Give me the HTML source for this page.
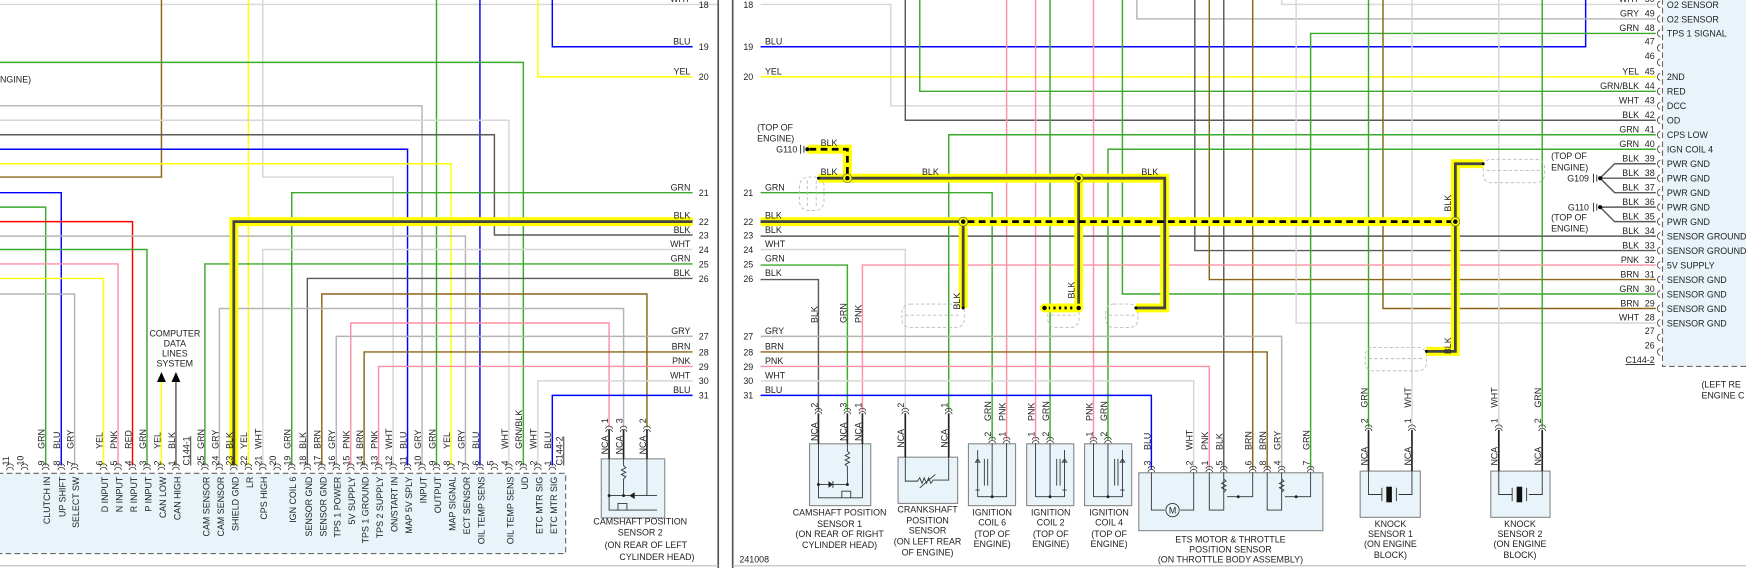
<!DOCTYPE html>
<html><head><meta charset="utf-8"><style>
html,body{margin:0;padding:0;background:#fff;}
svg{display:block;}
text{font-family:"Liberation Sans",sans-serif;font-size:8px;fill:#222;}
.w0{fill:none;stroke-width:1.3;}
.g{stroke:#3aaa2a}.b{stroke:#0000ff}.y{stroke:#ffff00}.p{stroke:#ff8fa3}.w{stroke:#d6d6d6}.gy{stroke:#b4b4b4}.k{stroke:#5a5a5a}.br{stroke:#8b6418}.r{stroke:#ff0000}
.nc{fill:none;stroke:#222;stroke-width:1.5}
.box{fill:#e8f4fa;stroke:#888;stroke-width:1}
.sh{fill:none;stroke:#bbb;stroke-width:0.8;stroke-dasharray:3 2}
.in{fill:none;stroke:#333;stroke-width:0.8}
.hy{fill:none;stroke:#ffff00;stroke-width:8;stroke-linejoin:miter}
.hk{fill:none;stroke:#444;stroke-width:2.5}
.hd{fill:none;stroke:#000;stroke-width:2.5;stroke-dasharray:6 4}
.e{text-anchor:end}.m{text-anchor:middle}
</style></head><body>
<svg width="1746" height="568" viewBox="0 0 1568 510" preserveAspectRatio="none" xmlns="http://www.w3.org/2000/svg">
<defs>
<path id="pa" d="M-3 0 a3 2.5 0 0 1 6 0 M-3 3 a3 2.5 0 0 1 6 0" fill="none" stroke="#333" stroke-width="0.7"/>
<path id="pr" d="M0 -3 a2.5 3 0 0 0 0 6" fill="none" stroke="#333" stroke-width="0.7"/>
</defs>
<rect width="1568" height="510" fill="#fff"/>

<!-- left connector box -->
<rect x="-2" y="425" width="510" height="72" fill="#e8f4fa" stroke="#666" stroke-width="1" stroke-dasharray="5 3"/>
<!-- right connector box -->
<rect x="1493" y="-2" width="80" height="331" fill="#e8f4fa" stroke="#666" stroke-width="1" stroke-dasharray="5 3"/>

<!-- LEFT PANEL WIRES -->
<g class="w0">
<path class="w" d="M0 4H645"/>
<path class="br" d="M145 0V159H0"/>
<path class="y" d="M223 0V418"/>
<path class="w" d="M236 0V159H353V418"/>
<path class="g" d="M392 0V418"/>
<path class="b" d="M431 0V418"/>
<path class="y" d="M483 0V69H622"/>
<path class="b" d="M496 0V42H622"/>
<path class="g" d="M0 56H470V418"/>
<path class="gy" d="M0 95H379V418"/>
<path class="w" d="M0 108H457V418"/>
<path class="k" d="M0 121H444V211H622"/>
<path class="b" d="M0 134H366V418"/>
<path class="y" d="M0 147H405V418"/>
<path class="g" d="M262 418V173H622"/>
<path class="b" d="M0 173H55V418"/>
<path class="g" d="M0 186H41V418"/>
<path class="r" d="M0 199H119V418"/>
<path class="gy" d="M0 212H418V418"/>
<path class="g" d="M0 224H132V418"/>
<path class="w" d="M236 418V224H622"/>
<path class="p" d="M0 237H106V418"/>
<path class="g" d="M184 418V237H622"/>
<path class="y" d="M0 250H93V418"/>
<path class="k" d="M276 418V250H622"/>
<path class="gy" d="M0 264H67V418"/>
<path class="br" d="M289 418V264H581V384"/>
<path class="gy" d="M197 418V277H560V384"/>
<path class="p" d="M315 418V290H547V384"/>
<path class="gy" d="M302 418V302H622"/>
<path class="br" d="M327 418V316H622"/>
<path class="p" d="M340 418V329H622"/>
<path class="w" d="M483 418V342H622"/>
<path class="b" d="M496 418V355H622"/>
<path class="y" d="M145 342V418"/>
<path class="k" d="M158 342V418"/>
</g>
<!-- shielded left -->
<path class="hy" d="M210 418V199H622"/>
<path class="hk" d="M210 418V199H622"/>
<polygon points="145,334 141,343 149,343" fill="#000"/>
<polygon points="158,334 154,343 162,343" fill="#000"/>
<text x="157" y="302" class="m">COMPUTER</text>
<text x="157" y="311" class="m">DATA</text>
<text x="157" y="320" class="m">LINES</text>
<text x="157" y="329" class="m">SYSTEM</text>
<text x="0" y="74">NGINE)</text>

<!-- left connector pin labels -->
<g>
<use href="#pa" x="9" y="419"/><use href="#pa" x="22" y="419"/><use href="#pa" x="41" y="419"/><use href="#pa" x="55" y="419"/><use href="#pa" x="67" y="419"/><use href="#pa" x="93" y="419"/><use href="#pa" x="106" y="419"/><use href="#pa" x="119" y="419"/><use href="#pa" x="132" y="419"/><use href="#pa" x="145" y="419"/><use href="#pa" x="158" y="419"/><use href="#pa" x="184" y="419"/><use href="#pa" x="197" y="419"/><use href="#pa" x="210" y="419"/><use href="#pa" x="223" y="419"/><use href="#pa" x="236" y="419"/><use href="#pa" x="249" y="419"/><use href="#pa" x="262" y="419"/><use href="#pa" x="276" y="419"/><use href="#pa" x="289" y="419"/><use href="#pa" x="302" y="419"/><use href="#pa" x="315" y="419"/><use href="#pa" x="327" y="419"/><use href="#pa" x="340" y="419"/><use href="#pa" x="353" y="419"/><use href="#pa" x="366" y="419"/><use href="#pa" x="379" y="419"/><use href="#pa" x="392" y="419"/><use href="#pa" x="405" y="419"/><use href="#pa" x="418" y="419"/><use href="#pa" x="431" y="419"/><use href="#pa" x="444" y="419"/><use href="#pa" x="457" y="419"/><use href="#pa" x="470" y="419"/><use href="#pa" x="483" y="419"/><use href="#pa" x="496" y="419"/>
</g>
<g>
<text transform="translate(8,418) rotate(-90)">11</text>
<text transform="translate(21,418) rotate(-90)">10</text>
<text transform="translate(40,418) rotate(-90)">9</text><text transform="translate(40,403) rotate(-90)">GRN</text><text class="e" transform="translate(45,428) rotate(-90)">CLUTCH IN</text>
<text transform="translate(54,418) rotate(-90)">8</text><text transform="translate(54,403) rotate(-90)">BLU</text><text class="e" transform="translate(59,428) rotate(-90)">UP SHIFT</text>
<text transform="translate(66,418) rotate(-90)">7</text><text transform="translate(66,403) rotate(-90)">GRY</text><text class="e" transform="translate(71,428) rotate(-90)">SELECT SW</text>
<text transform="translate(92,418) rotate(-90)">6</text><text transform="translate(92,403) rotate(-90)">YEL</text><text class="e" transform="translate(97,428) rotate(-90)">D INPUT</text>
<text transform="translate(105,418) rotate(-90)">5</text><text transform="translate(105,403) rotate(-90)">PNK</text><text class="e" transform="translate(110,428) rotate(-90)">N INPUT</text>
<text transform="translate(118,418) rotate(-90)">4</text><text transform="translate(118,403) rotate(-90)">RED</text><text class="e" transform="translate(123,428) rotate(-90)">R INPUT</text>
<text transform="translate(131,418) rotate(-90)">3</text><text transform="translate(131,403) rotate(-90)">GRN</text><text class="e" transform="translate(136,428) rotate(-90)">P INPUT</text>
<text transform="translate(144,418) rotate(-90)">2</text><text transform="translate(144,403) rotate(-90)">YEL</text><text class="e" transform="translate(149,428) rotate(-90)">CAN LOW</text>
<text transform="translate(157,418) rotate(-90)">1</text><text transform="translate(157,403) rotate(-90)">BLK</text><text class="e" transform="translate(162,428) rotate(-90)">CAN HIGH</text>
<text transform="translate(170,418) rotate(-90)" text-decoration="underline">C144-1</text>
<text transform="translate(183,418) rotate(-90)">25</text><text transform="translate(183,403) rotate(-90)">GRN</text><text class="e" transform="translate(188,428) rotate(-90)">CAM SENSOR</text>
<text transform="translate(196,418) rotate(-90)">24</text><text transform="translate(196,403) rotate(-90)">GRY</text><text class="e" transform="translate(201,428) rotate(-90)">CAM SENSOR</text>
<text transform="translate(209,418) rotate(-90)">23</text><text transform="translate(209,403) rotate(-90)">BLK</text><text class="e" transform="translate(214,428) rotate(-90)">SHIELD GND</text>
<text transform="translate(222,418) rotate(-90)">22</text><text transform="translate(222,403) rotate(-90)">YEL</text><text class="e" transform="translate(227,428) rotate(-90)">LR</text>
<text transform="translate(235,418) rotate(-90)">21</text><text transform="translate(235,403) rotate(-90)">WHT</text><text class="e" transform="translate(240,428) rotate(-90)">CPS HIGH</text>
<text transform="translate(248,418) rotate(-90)">20</text>
<text transform="translate(261,418) rotate(-90)">19</text><text transform="translate(261,403) rotate(-90)">GRN</text><text class="e" transform="translate(266,428) rotate(-90)">IGN COIL 6</text>
<text transform="translate(275,418) rotate(-90)">18</text><text transform="translate(275,403) rotate(-90)">BLK</text><text class="e" transform="translate(280,428) rotate(-90)">SENSOR GND</text>
<text transform="translate(288,418) rotate(-90)">17</text><text transform="translate(288,403) rotate(-90)">BRN</text><text class="e" transform="translate(293,428) rotate(-90)">SENSOR GND</text>
<text transform="translate(301,418) rotate(-90)">16</text><text transform="translate(301,403) rotate(-90)">GRY</text><text class="e" transform="translate(306,428) rotate(-90)">TPS 1 POWER</text>
<text transform="translate(314,418) rotate(-90)">15</text><text transform="translate(314,403) rotate(-90)">PNK</text><text class="e" transform="translate(319,428) rotate(-90)">5V SUPPLY</text>
<text transform="translate(326,418) rotate(-90)">14</text><text transform="translate(326,403) rotate(-90)">BRN</text><text class="e" transform="translate(331,428) rotate(-90)">TPS 1 GROUND</text>
<text transform="translate(339,418) rotate(-90)">13</text><text transform="translate(339,403) rotate(-90)">PNK</text><text class="e" transform="translate(344,428) rotate(-90)">TPS 2 SUPPLY</text>
<text transform="translate(352,418) rotate(-90)">12</text><text transform="translate(352,403) rotate(-90)">WHT</text><text class="e" transform="translate(357,428) rotate(-90)">ON/START IN</text>
<text transform="translate(365,418) rotate(-90)">11</text><text transform="translate(365,403) rotate(-90)">BLU</text><text class="e" transform="translate(370,428) rotate(-90)">MAP 5V SPLY</text>
<text transform="translate(378,418) rotate(-90)">10</text><text transform="translate(378,403) rotate(-90)">GRY</text><text class="e" transform="translate(383,428) rotate(-90)">INPUT</text>
<text transform="translate(391,418) rotate(-90)">9</text><text transform="translate(391,403) rotate(-90)">GRN</text><text class="e" transform="translate(396,428) rotate(-90)">OUTPUT</text>
<text transform="translate(404,418) rotate(-90)">8</text><text transform="translate(404,403) rotate(-90)">YEL</text><text class="e" transform="translate(409,428) rotate(-90)">MAP SIGNAL</text>
<text transform="translate(417,418) rotate(-90)">7</text><text transform="translate(417,403) rotate(-90)">GRY</text><text class="e" transform="translate(422,428) rotate(-90)">ECT SENSOR</text>
<text transform="translate(430,418) rotate(-90)">6</text><text transform="translate(430,403) rotate(-90)">BLU</text><text class="e" transform="translate(435,428) rotate(-90)">OIL TEMP SENS</text>
<text transform="translate(443,418) rotate(-90)">5</text>
<text transform="translate(456,418) rotate(-90)">4</text><text transform="translate(456,403) rotate(-90)">WHT</text><text class="e" transform="translate(461,428) rotate(-90)">OIL TEMP SENS</text>
<text transform="translate(469,418) rotate(-90)">3</text><text transform="translate(469,403) rotate(-90)">GRN/BLK</text><text class="e" transform="translate(474,428) rotate(-90)">UD</text>
<text transform="translate(482,418) rotate(-90)">2</text><text transform="translate(482,403) rotate(-90)">WHT</text><text class="e" transform="translate(487,428) rotate(-90)">ETC MTR SIG</text>
<text transform="translate(495,418) rotate(-90)">1</text><text transform="translate(495,403) rotate(-90)">BLU</text><text class="e" transform="translate(500,428) rotate(-90)">ETC MTR SIG</text>
<text transform="translate(505,418) rotate(-90)" text-decoration="underline">C144-2</text>
</g>

<!-- left panel right-edge labels -->
<g>
<text class="e" x="620" y="2">WHT</text><text class="m" x="632" y="7">18</text>
<text class="e" x="620" y="40">BLU</text><text class="m" x="632" y="45">19</text>
<text class="e" x="620" y="67">YEL</text><text class="m" x="632" y="72">20</text>
<text class="e" x="620" y="171">GRN</text><text class="m" x="632" y="176">21</text>
<text class="e" x="620" y="196">BLK</text><text class="m" x="632" y="202">22</text>
<text class="e" x="620" y="209">BLK</text><text class="m" x="632" y="214">23</text>
<text class="e" x="620" y="222">WHT</text><text class="m" x="632" y="227">24</text>
<text class="e" x="620" y="235">GRN</text><text class="m" x="632" y="240">25</text>
<text class="e" x="620" y="248">BLK</text><text class="m" x="632" y="253">26</text>
<text class="e" x="620" y="300">GRY</text><text class="m" x="632" y="305">27</text>
<text class="e" x="620" y="314">BRN</text><text class="m" x="632" y="319">28</text>
<text class="e" x="620" y="327">PNK</text><text class="m" x="632" y="332">29</text>
<text class="e" x="620" y="340">WHT</text><text class="m" x="632" y="345">30</text>
<text class="e" x="620" y="353">BLU</text><text class="m" x="632" y="358">31</text>
</g>

<!-- camshaft sensor 2 -->
<rect class="box" x="540" y="412" width="57" height="53"/>
<path class="nc" d="M547 386V412M560 386V412M581 386V412"/>
<use href="#pa" x="547" y="385"/><use href="#pa" x="560" y="385"/><use href="#pa" x="581" y="385"/>
<text transform="translate(546,380) rotate(-90)">1</text><text transform="translate(559,380) rotate(-90)">3</text><text transform="translate(580,380) rotate(-90)">2</text>
<text transform="translate(546,408) rotate(-90)">NCA</text><text transform="translate(559,408) rotate(-90)">NCA</text><text transform="translate(580,408) rotate(-90)">NCA</text>
<path class="in" d="M547 412V458H590M560 412V418l2 2-4 2 4 2-4 2 4 2-2 2V445M547 445H590M581 412V445M555 458v-6h8v6"/>
<path d="M565 445l5-3v6z" fill="#222"/>
<circle cx="547" cy="445" r="1.3" fill="#222"/><circle cx="560" cy="445" r="1.3" fill="#222"/>
<text class="m" x="575" y="471">CAMSHAFT POSITION</text>
<text class="m" x="575" y="481">SENSOR 2</text>
<text class="m" x="580" y="492">(ON REAR OF LEFT</text>
<text class="m" x="590" y="503">CYLINDER HEAD)</text>

<!-- panel borders -->
<path d="M645 0V510M658 0V510" stroke="#555" stroke-width="1.5"/>
<path d="M0 508H645M658 508H1568" stroke="#bbb" stroke-width="1"/>

<!-- RIGHT PANEL WIRES -->
<g class="w0">
<path class="w" d="M683 4H800V95H1487"/>
<path class="w" d="M1151 0V4H1487"/>
<path class="b" d="M683 42H1424V0"/>
<path class="y" d="M683 69H1487"/>
<path class="k" d="M813 0V108H1487"/>
<path class="g" d="M826 0V82H1487"/>
<path class="p" d="M904 0V395"/>
<path class="p" d="M930 0V395"/>
<path class="g" d="M943 0V395"/>
<path class="p" d="M982 0V395"/>
<path class="g" d="M1008 0V264H1487"/>
<path class="gy" d="M1021 0V17H1487"/>
<path class="k" d="M1073 0V225H1487"/>
<path class="br" d="M1086 0V251H1487"/>
<path class="k" d="M1099 0V421"/>
<path class="br" d="M1125 0V421"/>
<path class="w" d="M1164 0V290H1487"/>
<path class="g" d="M1177 421V30H1487"/>
<path class="g" d="M1229 0V384"/>
<path class="br" d="M1242 0V277H1487"/>
<path class="w" d="M1268 0V384"/>
<path class="w" d="M1346 0V384"/>
<path class="g" d="M1385 0V384"/>
<path class="g" d="M683 173H891V395"/>
<path class="k" d="M683 212H1487"/>
<path class="w" d="M683 224H813V369"/>
<path class="g" d="M683 238H761V369"/>
<path class="p" d="M774.5 369V238H1487"/>
<path class="k" d="M683 251H735V369"/>
<path class="g" d="M852 369V121H1487"/>
<path class="g" d="M995 395V134H1487"/>
<path class="b" d="M683 355H1034V421"/>
<path class="w" d="M683 342H1072V421"/>
<path class="p" d="M683 329H1086V421"/>
<path class="br" d="M683 316H1138V421"/>
<path class="gy" d="M683 302H1151V421"/>
<path class="k" d="M1437 160L1450 147H1487M1437 160H1487M1437 160L1450 173H1487M1437 186H1487M1437 186L1450 199H1487"/>
</g>

<!-- shields -->
<g>
<rect class="sh" x="718" y="159" width="22" height="30" rx="8"/><path class="sh" d="M725 162V186M733 162V186"/>
<rect class="sh" x="810" y="273" width="56" height="21" rx="7"/><path class="sh" d="M813 283H863"/>
<rect class="sh" x="941" y="273" width="28" height="21" rx="7"/><path class="sh" d="M944 283H966"/>
<rect class="sh" x="993" y="273" width="29" height="21" rx="7"/><path class="sh" d="M996 283H1019"/>
<rect class="sh" x="1332" y="143" width="55" height="21" rx="7"/><path class="sh" d="M1335 153H1384"/>
<rect class="sh" x="1226" y="312" width="55" height="21" rx="7"/><path class="sh" d="M1229 322H1278"/>
</g>

<!-- highlighted grounds -->
<path class="hy" d="M683 199H865V276.5"/>
<path class="hy" d="M735 160H1046V276.5H1020"/>
<path class="hy" d="M968.7 160V276.5"/>
<path class="hy" d="M1332 147H1307V315.5H1281"/>
<path class="hy" d="M865 199H1307"/>
<path class="hy" d="M725 134H761V160"/>
<path class="hy" d="M938 276.5H968.7"/>
<path class="hk" d="M683 199H865V276.5"/>
<path class="hk" d="M735 160H1046V276.5H1020"/>
<path class="hk" d="M968.7 160V276.5"/>
<path class="hk" d="M1332 147H1307V315.5H1281"/>
<path class="hd" d="M869 199H1307"/>
<path class="hd" d="M727 134H761V160"/>
<path d="M941 276.5H966" stroke="#000" stroke-width="2.5" stroke-dasharray="2 3" fill="none"/>
<g fill="#000">
<circle cx="761" cy="160" r="4" fill="#ffff00" stroke="#444" stroke-width="0.5"/><circle cx="761" cy="160" r="2"/>
<circle cx="968.7" cy="160" r="4" fill="#ffff00" stroke="#444" stroke-width="0.5"/><circle cx="968.7" cy="160" r="2"/>
<circle cx="865" cy="199" r="4" fill="#ffff00" stroke="#444" stroke-width="0.5"/><circle cx="865" cy="199" r="2"/>
<circle cx="1307" cy="199" r="4" fill="#ffff00" stroke="#444" stroke-width="0.5"/><circle cx="1307" cy="199" r="2"/>
<circle cx="938" cy="276.5" r="4" fill="#ffff00"/><circle cx="938" cy="276.5" r="2"/>
<circle cx="968.7" cy="276.5" r="4" fill="#ffff00"/><circle cx="968.7" cy="276.5" r="2"/>
<circle cx="735" cy="160" r="1.3"/><circle cx="1020" cy="276.5" r="1.3"/><circle cx="865" cy="276.5" r="1.3"/><circle cx="1332" cy="147" r="1.3"/><circle cx="1281" cy="315.5" r="1.3"/>
</g>
<!-- G110 top-left -->
<text x="680" y="117">(TOP OF</text><text x="680" y="127">ENGINE)</text>
<text class="e" x="716" y="137">G110</text>
<path d="M719 130V138M722 131V137" stroke="#222" stroke-width="0.8"/><circle cx="725" cy="134" r="1.8" fill="#000"/>
<text x="737" y="131">BLK</text>
<text x="737" y="157">BLK</text><text x="828" y="157">BLK</text><text x="1025" y="157">BLK</text>
<text transform="translate(862,278) rotate(-90)">BLK</text>
<text transform="translate(965,268) rotate(-90)">BLK</text>
<text transform="translate(1303,190) rotate(-90)">BLK</text>
<text transform="translate(1303,318) rotate(-90)">BLK</text>

<!-- right panel left labels -->
<g>
<text class="m" x="672" y="7">18</text>
<text x="687" y="40">BLU</text><text class="m" x="672" y="45">19</text>
<text x="687" y="67">YEL</text><text class="m" x="672" y="72">20</text>
<text x="687" y="171">GRN</text><text class="m" x="672" y="176">21</text>
<text x="687" y="196">BLK</text><text class="m" x="672" y="202">22</text>
<text x="687" y="209">BLK</text><text class="m" x="672" y="214">23</text>
<text x="687" y="222">WHT</text><text class="m" x="672" y="227">24</text>
<text x="687" y="235">GRN</text><text class="m" x="672" y="240">25</text>
<text x="687" y="248">BLK</text><text class="m" x="672" y="253">26</text>
<text x="687" y="300">GRY</text><text class="m" x="672" y="305">27</text>
<text x="687" y="314">BRN</text><text class="m" x="672" y="319">28</text>
<text x="687" y="327">PNK</text><text class="m" x="672" y="332">29</text>
<text x="687" y="340">WHT</text><text class="m" x="672" y="345">30</text>
<text x="687" y="353">BLU</text><text class="m" x="672" y="358">31</text>
<text x="664" y="505">241008</text>
</g>

<!-- right connector labels -->
<g>
<text class="e" x="1472" y="2">WHT</text><text class="e" x="1486" y="2">50</text><text x="1497" y="7">O2 SENSOR</text>
<text class="e" x="1472" y="15">GRY</text><text class="e" x="1486" y="15">49</text><text x="1497" y="20">O2 SENSOR</text>
<text class="e" x="1472" y="28">GRN</text><text class="e" x="1486" y="28">48</text><text x="1497" y="33">TPS 1 SIGNAL</text>
<text class="e" x="1486" y="40">47</text>
<text class="e" x="1486" y="53">46</text>
<text class="e" x="1472" y="67">YEL</text><text class="e" x="1486" y="67">45</text><text x="1497" y="72">2ND</text>
<text class="e" x="1472" y="80">GRN/BLK</text><text class="e" x="1486" y="80">44</text><text x="1497" y="85">RED</text>
<text class="e" x="1472" y="93">WHT</text><text class="e" x="1486" y="93">43</text><text x="1497" y="98">DCC</text>
<text class="e" x="1472" y="106">BLK</text><text class="e" x="1486" y="106">42</text><text x="1497" y="111">OD</text>
<text class="e" x="1472" y="119">GRN</text><text class="e" x="1486" y="119">41</text><text x="1497" y="124">CPS LOW</text>
<text class="e" x="1472" y="132">GRN</text><text class="e" x="1486" y="132">40</text><text x="1497" y="137">IGN COIL 4</text>
<text class="e" x="1472" y="145">BLK</text><text class="e" x="1486" y="145">39</text><text x="1497" y="150">PWR GND</text>
<text class="e" x="1472" y="158">BLK</text><text class="e" x="1486" y="158">38</text><text x="1497" y="163">PWR GND</text>
<text class="e" x="1472" y="171">BLK</text><text class="e" x="1486" y="171">37</text><text x="1497" y="176">PWR GND</text>
<text class="e" x="1472" y="184">BLK</text><text class="e" x="1486" y="184">36</text><text x="1497" y="189">PWR GND</text>
<text class="e" x="1472" y="197">BLK</text><text class="e" x="1486" y="197">35</text><text x="1497" y="202">PWR GND</text>
<text class="e" x="1472" y="210">BLK</text><text class="e" x="1486" y="210">34</text><text x="1497" y="215">SENSOR GROUND</text>
<text class="e" x="1472" y="223">BLK</text><text class="e" x="1486" y="223">33</text><text x="1497" y="228">SENSOR GROUND</text>
<text class="e" x="1472" y="236">PNK</text><text class="e" x="1486" y="236">32</text><text x="1497" y="241">5V SUPPLY</text>
<text class="e" x="1472" y="249">BRN</text><text class="e" x="1486" y="249">31</text><text x="1497" y="254">SENSOR GND</text>
<text class="e" x="1472" y="262">GRN</text><text class="e" x="1486" y="262">30</text><text x="1497" y="267">SENSOR GND</text>
<text class="e" x="1472" y="275">BRN</text><text class="e" x="1486" y="275">29</text><text x="1497" y="280">SENSOR GND</text>
<text class="e" x="1472" y="288">WHT</text><text class="e" x="1486" y="288">28</text><text x="1497" y="293">SENSOR GND</text>
<text class="e" x="1486" y="300">27</text>
<text class="e" x="1486" y="313">26</text>
<text class="e" x="1486" y="326" text-decoration="underline">C144-2</text>
<text x="1528" y="348">(LEFT RE</text><text x="1528" y="358">ENGINE C</text>
<text x="1393" y="143">(TOP OF</text><text x="1393" y="153">ENGINE)</text>
<text class="e" x="1427" y="163">G109</text>
<text class="e" x="1427" y="189">G110</text>
<text x="1393" y="198">(TOP OF</text><text x="1393" y="208">ENGINE)</text>
</g>
<path d="M1431 156V164M1434 157V163M1431 182V190M1434 183V189" stroke="#222" stroke-width="0.8"/>
<circle cx="1437" cy="160" r="1.8" fill="#000"/><circle cx="1437" cy="186" r="1.8" fill="#000"/>
<g>
<use href="#pr" x="1491" y="4"/><use href="#pr" x="1491" y="17"/><use href="#pr" x="1491" y="30"/><use href="#pr" x="1491" y="43"/><use href="#pr" x="1491" y="56"/><use href="#pr" x="1491" y="69"/><use href="#pr" x="1491" y="82"/><use href="#pr" x="1491" y="95"/><use href="#pr" x="1491" y="108"/><use href="#pr" x="1491" y="121"/><use href="#pr" x="1491" y="134"/><use href="#pr" x="1491" y="147"/><use href="#pr" x="1491" y="160"/><use href="#pr" x="1491" y="173"/><use href="#pr" x="1491" y="186"/><use href="#pr" x="1491" y="199"/><use href="#pr" x="1491" y="212"/><use href="#pr" x="1491" y="225"/><use href="#pr" x="1491" y="238"/><use href="#pr" x="1491" y="251"/><use href="#pr" x="1491" y="264"/><use href="#pr" x="1491" y="277"/><use href="#pr" x="1491" y="290"/><use href="#pr" x="1491" y="303"/><use href="#pr" x="1491" y="316"/>
</g>

<!-- CAMSHAFT SENSOR 1 -->
<rect class="box" x="727" y="398.5" width="55" height="55.5"/>
<path class="nc" d="M735 371V398.5M761 371V398.5M774.5 371V398.5"/>
<use href="#pa" x="735" y="369"/><use href="#pa" x="761" y="369"/><use href="#pa" x="774.5" y="369"/>
<text transform="translate(734,366) rotate(-90)">2</text><text transform="translate(760,366) rotate(-90)">3</text><text transform="translate(773.5,366) rotate(-90)">1</text>
<text transform="translate(734,396) rotate(-90)">NCA</text><text transform="translate(760,396) rotate(-90)">NCA</text><text transform="translate(773.5,396) rotate(-90)">NCA</text>
<text transform="translate(734,290) rotate(-90)">BLK</text><text transform="translate(760,290) rotate(-90)">GRN</text><text transform="translate(773.5,290) rotate(-90)">PNK</text>
<path class="in" d="M735 398.5V447H774.5V398.5M761 398.5V405l2 2-4 2 4 2-4 2 4 2-4 2 2 2V435M735 435H761M756 447v-6h8v6"/>
<path d="M748 435l-4-3v6z" fill="#222"/><path d="M748 432v6" stroke="#222" stroke-width="0.8"/>
<circle cx="735" cy="435" r="1.3" fill="#222"/><circle cx="761" cy="435" r="1.3" fill="#222"/>
<text class="m" x="754" y="463">CAMSHAFT POSITION</text><text class="m" x="754" y="473">SENSOR 1</text><text class="m" x="754" y="482">(ON REAR OF RIGHT</text><text class="m" x="754" y="492">CYLINDER HEAD)</text>

<!-- CRANKSHAFT -->
<rect class="box" x="806.5" y="410.5" width="53.5" height="41.5"/>
<path class="nc" d="M813 371V410.5M852 371V410.5"/>
<use href="#pa" x="813" y="369"/><use href="#pa" x="852" y="369"/>
<text transform="translate(812,366) rotate(-90)">2</text><text transform="translate(851,366) rotate(-90)">1</text>
<text transform="translate(812,402) rotate(-90)">NCA</text><text transform="translate(851,402) rotate(-90)">NCA</text>
<path class="in" d="M813 410.5V432H824l2-3 2 5 2-5 2 5 2-5 2 5 2-3H852V410.5M826 438L840 426"/>
<text class="m" x="833" y="460">CRANKSHAFT</text><text class="m" x="833" y="470">POSITION</text><text class="m" x="833" y="479">SENSOR</text><text class="m" x="833" y="489">(ON LEFT REAR</text><text class="m" x="833" y="499">OF ENGINE)</text>

<!-- COILS -->
<g>
<rect class="box" x="869.7" y="398.5" width="42.3" height="55.5"/>
<use href="#pa" x="891" y="395"/><use href="#pa" x="904" y="395"/>
<text transform="translate(890,392) rotate(-90)">2</text><text transform="translate(903,392) rotate(-90)">1</text>
<text transform="translate(890,378) rotate(-90)">GRN</text><text transform="translate(903,378) rotate(-90)">PNK</text>
<path class="in" d="M878 404V446H904V398M891 398V446M884 412v24M887 412v24M878 412l-2 3h4z M876 440h4"/>
<circle cx="891" cy="446" r="1.3" fill="#222"/>
<text class="m" x="891" y="463">IGNITION</text><text class="m" x="891" y="472">COIL 6</text><text class="m" x="891" y="482">(TOP OF</text><text class="m" x="891" y="491">ENGINE)</text>

<rect class="box" x="922" y="398.5" width="42.3" height="55.5"/>
<use href="#pa" x="930" y="395"/><use href="#pa" x="943" y="395"/>
<text transform="translate(929,392) rotate(-90)">1</text><text transform="translate(942,392) rotate(-90)">2</text>
<text transform="translate(929,378) rotate(-90)">PNK</text><text transform="translate(942,378) rotate(-90)">GRN</text>
<path class="in" d="M930 398V446H956V404M943 398V446M949 412v24M952 412v24M956 412l-2 3h4zM954 440h4"/>
<circle cx="943" cy="446" r="1.3" fill="#222"/>
<text class="m" x="943.6" y="463">IGNITION</text><text class="m" x="943.6" y="472">COIL 2</text><text class="m" x="943.6" y="482">(TOP OF</text><text class="m" x="943.6" y="491">ENGINE)</text>

<rect class="box" x="974" y="398.5" width="42.3" height="55.5"/>
<use href="#pa" x="982" y="395"/><use href="#pa" x="995" y="395"/>
<text transform="translate(981,392) rotate(-90)">1</text><text transform="translate(994,392) rotate(-90)">2</text>
<text transform="translate(981,378) rotate(-90)">PNK</text><text transform="translate(994,378) rotate(-90)">GRN</text>
<path class="in" d="M982 398V446H1008V404M995 398V446M1001 412v24M1004 412v24M1008 412l-2 3h4zM1006 440h4"/>
<circle cx="995" cy="446" r="1.3" fill="#222"/>
<text class="m" x="996" y="463">IGNITION</text><text class="m" x="996" y="472">COIL 4</text><text class="m" x="996" y="482">(TOP OF</text><text class="m" x="996" y="491">ENGINE)</text>
</g>

<!-- ETS -->
<rect class="box" x="1022.7" y="424.5" width="165.3" height="52"/>
<g>
<use href="#pa" x="1034" y="421"/><use href="#pa" x="1072" y="421"/><use href="#pa" x="1086" y="421"/><use href="#pa" x="1099" y="421"/><use href="#pa" x="1125" y="421"/><use href="#pa" x="1138" y="421"/><use href="#pa" x="1151" y="421"/><use href="#pa" x="1177" y="421"/>
<text transform="translate(1033,418) rotate(-90)">3</text><text transform="translate(1033,404) rotate(-90)">BLU</text>
<text transform="translate(1071,418) rotate(-90)">2</text><text transform="translate(1071,404) rotate(-90)">WHT</text>
<text transform="translate(1085,418) rotate(-90)">1</text><text transform="translate(1085,404) rotate(-90)">PNK</text>
<text transform="translate(1098,418) rotate(-90)">5</text><text transform="translate(1098,404) rotate(-90)">BLK</text>
<text transform="translate(1124,418) rotate(-90)">6</text><text transform="translate(1124,404) rotate(-90)">BRN</text>
<text transform="translate(1137,418) rotate(-90)">8</text><text transform="translate(1137,404) rotate(-90)">BRN</text>
<text transform="translate(1150,418) rotate(-90)">4</text><text transform="translate(1150,404) rotate(-90)">GRY</text>
<text transform="translate(1176,418) rotate(-90)">7</text><text transform="translate(1176,404) rotate(-90)">GRN</text>
</g>
<path class="in" d="M1034 424V458H1046M1060 458H1072V424M1086 424V458H1099V424M1099 430l2 2-4 2 4 2-4 2 4 2-2 2M1102 446H1125V424M1138 424V458H1151V424M1151 430l2 2-4 2 4 2-4 2 4 2-2 2M1154 446H1177V424"/>
<circle cx="1053" cy="458" r="6" fill="#e8f4fa" stroke="#333" stroke-width="0.8"/><text class="m" x="1053" y="461">M</text>
<circle cx="1112" cy="446" r="1.3" fill="#222"/><circle cx="1164" cy="446" r="1.3" fill="#222"/>
<text class="m" x="1105" y="487">ETS MOTOR &amp; THROTTLE</text><text class="m" x="1105" y="496">POSITION SENSOR</text><text class="m" x="1105" y="505">(ON THROTTLE BODY ASSEMBLY)</text>

<!-- KNOCK 1 -->
<rect class="box" x="1221.5" y="423" width="54" height="41.5"/>
<path class="nc" d="M1229 386V423M1268 386V423"/>
<use href="#pa" x="1229" y="384"/><use href="#pa" x="1268" y="384"/>
<text transform="translate(1228,380) rotate(-90)">2</text><text transform="translate(1228,366) rotate(-90)">GRN</text>
<text transform="translate(1267,380) rotate(-90)">1</text><text transform="translate(1267,366) rotate(-90)">WHT</text>
<text transform="translate(1228,418) rotate(-90)">NCA</text><text transform="translate(1267,418) rotate(-90)">NCA</text>
<path class="in" d="M1229 423V444H1241M1256 444H1268V423M1241 438V450M1254 438V450"/>
<rect x="1245" y="437" width="5" height="14" fill="#111"/>
<text class="m" x="1248.7" y="473">KNOCK</text><text class="m" x="1248.7" y="482">SENSOR 1</text><text class="m" x="1248.7" y="491">(ON ENGINE</text><text class="m" x="1248.7" y="501">BLOCK)</text>

<!-- KNOCK 2 -->
<rect class="box" x="1338.8" y="423" width="53.2" height="41.5"/>
<path class="nc" d="M1346 386V423M1385 386V423"/>
<use href="#pa" x="1346" y="384"/><use href="#pa" x="1385" y="384"/>
<text transform="translate(1345,380) rotate(-90)">1</text><text transform="translate(1345,366) rotate(-90)">WHT</text>
<text transform="translate(1384,380) rotate(-90)">2</text><text transform="translate(1384,366) rotate(-90)">GRN</text>
<text transform="translate(1345,418) rotate(-90)">NCA</text><text transform="translate(1384,418) rotate(-90)">NCA</text>
<path class="in" d="M1346 423V444H1358M1373 444H1385V423M1358 438V450M1371 438V450"/>
<rect x="1362" y="437" width="5" height="14" fill="#111"/>
<text class="m" x="1365" y="473">KNOCK</text><text class="m" x="1365" y="482">SENSOR 2</text><text class="m" x="1365" y="491">(ON ENGINE</text><text class="m" x="1365" y="501">BLOCK)</text>
</svg>
</body></html>
